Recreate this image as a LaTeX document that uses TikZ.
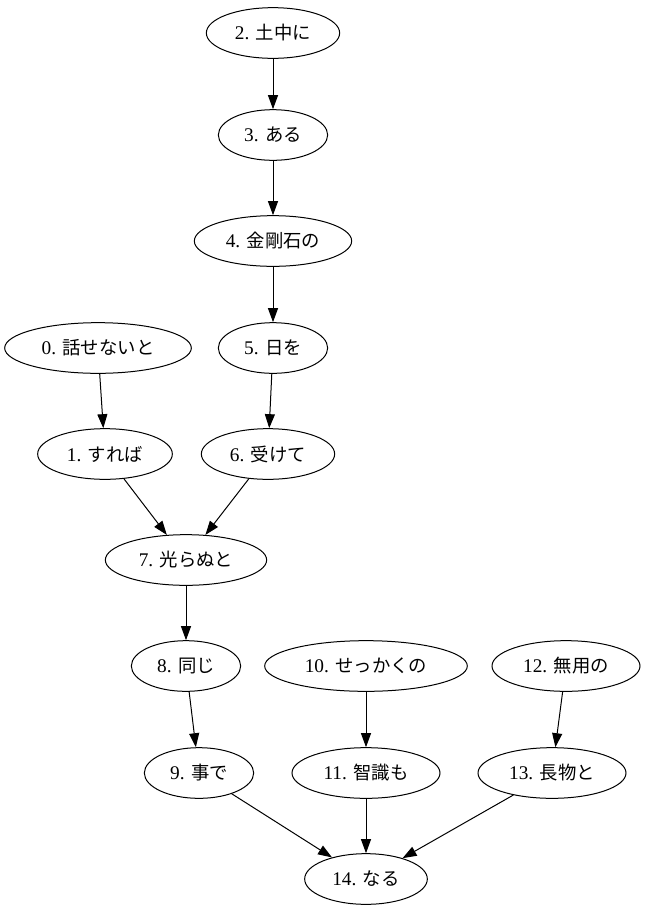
\documentclass[tikz,border=0pt]{standalone}
\usepackage{fontspec}
\setmainfont{Liberation Serif}
\newfontfamily\jp{Noto Sans CJK JP}[Scale=0.95]
\usetikzlibrary{shapes.geometric,arrows.meta}
\begin{document}
\begin{tikzpicture}[x=0.75pt,y=-0.75pt,
  wnode/.style={draw,ellipse,line width=0.75pt,inner sep=0pt,minimum height=38pt,font=\fontsize{14.5pt}{16pt}\selectfont},
  link/.style={line width=0.75pt,-{Triangle[length=10.5pt,width=7.5pt]}}]
\useasboundingbox (0,0) rectangle (646,918);
% word nodes, laid out in ranks
\node[wnode,minimum width=100pt] (n2)  at (273,33)  {2. {\jp 土中に}};
\node[wnode,minimum width=82pt]  (n3)  at (273,135) {3. {\jp ある}};
\node[wnode,minimum width=118pt] (n4)  at (273,241) {4. {\jp 金剛石の}};
\node[wnode,minimum width=140pt] (n0)  at (98,348)  {0. {\jp 話せないと}};
\node[wnode,minimum width=82pt]  (n5)  at (273,348) {5. {\jp 日を}};
\node[wnode,minimum width=101pt] (n1)  at (105,454) {1. {\jp すれば}};
\node[wnode,minimum width=100pt] (n6)  at (268,454) {6. {\jp 受けて}};
\node[wnode,minimum width=121pt] (n7)  at (186,560) {7. {\jp 光らぬと}};
\node[wnode,minimum width=82pt]  (n8)  at (186,666) {8. {\jp 同じ}};
\node[wnode,minimum width=152pt] (n10) at (366,666) {10. {\jp せっかくの}};
\node[wnode,minimum width=111pt] (n12) at (566,666) {12. {\jp 無用の}};
\node[wnode,minimum width=82pt]  (n9)  at (199,773) {9. {\jp 事で}};
\node[wnode,minimum width=111pt] (n11) at (366,773) {11. {\jp 智識も}};
\node[wnode,minimum width=111pt] (n13) at (552,773) {13. {\jp 長物と}};
\node[wnode,minimum width=92pt]  (n14) at (366,879) {14. {\jp なる}};
% dependencies
\draw[link] (n2) -- (n3);
\draw[link] (n3) -- (n4);
\draw[link] (n4) -- (n5);
\draw[link] (n5) -- (n6);
\draw[link] (n0) -- (n1);
\draw[link] (n1) -- (n7);
\draw[link] (n6) -- (n7);
\draw[link] (n7) -- (n8);
\draw[link] (n8) -- (n9);
\draw[link] (n10) -- (n11);
\draw[link] (n12) -- (n13);
\draw[link] (n9) -- (n14);
\draw[link] (n11) -- (n14);
\draw[link] (n13) -- (n14);
\end{tikzpicture}
\end{document}
